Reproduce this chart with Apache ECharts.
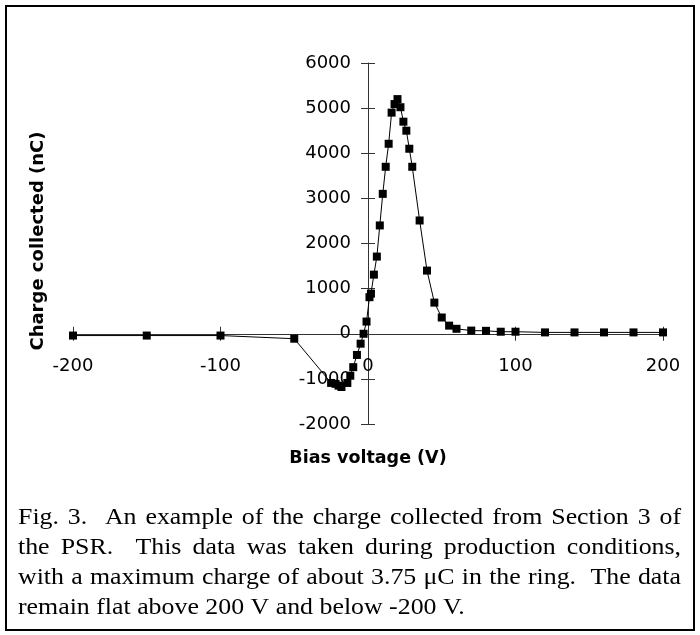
<!DOCTYPE html>
<html>
<head>
<meta charset="utf-8">
<script src="https://cdn.jsdelivr.net/npm/echarts@6/dist/echarts.min.js"></script>
<style>
html,body{margin:0;padding:0;background:#fff;}
#chart{width:700px;height:635px;}
</style>
</head>
<body>
<div id="chart"></div>
<script>
// Bias voltage (V)
const biasVoltage = [-200, -150, -100, -50, -25, -22, -20, -18, -14, -12, -10, -7.5, -5, -3, -1, 1, 2, 4, 6, 8, 10, 12, 14, 16, 18, 20, 22, 24, 26, 28, 30, 35, 40, 45, 50, 55, 60, 70, 80, 90, 100, 120, 140, 160, 180, 200];
// Charge collected (nC)
const chargeCollected = [-40, -40, -40, -110, -1090, -1110, -1150, -1180, -1090, -930, -740, -470, -220, 0, 270, 810, 890, 1310, 1710, 2400, 3100, 3700, 4210, 4900, 5090, 5200, 5020, 4700, 4500, 4100, 3700, 2510, 1400, 690, 360, 180, 110, 70, 65, 45, 45, 30, 30, 30, 30, 30];
const xTicks = {min: -200, max: 200, interval: 100};
const yTicks = {min: -2000, max: 6000, interval: 1000};
const xTitle = 'Bias voltage (V)';
const yTitle = 'Charge collected (nC)';
const captionLines = [
  "Fig. 3.  An example of the charge collected from Section 3 of",
  "the PSR.  This data was taken during production conditions,",
  "with a maximum charge of about 3.75 \u03bcC in the ring.  The data",
  "remain flat above 200 V and below -200 V."
];

const points = biasVoltage.map((v, i) => [v, chargeCollected[i]]);
const axisColor = '#333';
const tickFont = {fontFamily: '"DejaVu Sans", sans-serif', fontSize: 18, color: '#000'};

const grid = {left: 73, right: 37, top: 63, bottom: 211};
const W = 700, H = 635;
const gridW = W - grid.left - grid.right;
const gridH = H - grid.top - grid.bottom;
// shift axes so they cross at zero
const yAxisOffset = -gridW * (0 - xTicks.min) / (xTicks.max - xTicks.min);
const xAxisOffset = -gridH * (0 - yTicks.min) / (yTicks.max - yTicks.min);

// caption layout (justified lines)
const capFamily = '"Liberation Serif", "Times New Roman", serif';
const capSize = 23.5;
const capFont = capSize + 'px ' + capFamily;
const capScale = 1.1;
const capLeft = 18, capRight = 681, capTop = 518, capStep = 30;
const mctx = document.createElement('canvas').getContext('2d');
mctx.font = capFont;
const captionGraphics = [];
captionLines.forEach((line, li) => {
  const tokens = line.split(/( +)/).filter(s => s.length);
  const words = tokens.filter(t => !/^ +$/.test(t));
  const gaps = tokens.filter(t => /^ +$/.test(t)).map(t => t.length);
  const spaceW = mctx.measureText(' ').width * capScale;
  const widths = words.map(w => mctx.measureText(w).width * capScale);
  const wordsTotal = widths.reduce((a, b) => a + b, 0);
  const gapUnits = gaps.reduce((a, b) => a + b, 0);
  let unit = spaceW;
  if (li < captionLines.length - 1) unit = (capRight - capLeft - wordsTotal) / gapUnits;
  let x = capLeft;
  words.forEach((w, wi) => {
    captionGraphics.push({
      type: 'text', x: x, y: capTop + li * capStep, scaleX: capScale,
      style: {text: w, fontFamily: capFamily, fontSize: capSize, fill: '#000', textVerticalAlign: 'middle'}
    });
    x += widths[wi] + (wi < gaps.length ? gaps[wi] * unit : 0);
  });
});

const chart = echarts.init(document.getElementById('chart'), null, {renderer: 'canvas'});
chart.setOption({
  animation: false,
  backgroundColor: '#fff',
  grid: Object.assign({containLabel: false}, grid),
  xAxis: [{
    type: 'value', min: xTicks.min, max: xTicks.max, interval: xTicks.interval,
    position: 'bottom', offset: xAxisOffset,
    axisLine: {onZero: false, lineStyle: {color: axisColor, width: 1}},
    axisTick: {inside: false, length: 7, lineStyle: {color: axisColor}},
    axisLabel: Object.assign({margin: 24, formatter: v => String(v)}, tickFont),
    splitLine: {show: false}
  }, {
    type: 'value', min: xTicks.min, max: xTicks.max, interval: xTicks.interval,
    position: 'bottom', offset: xAxisOffset,
    axisLine: {show: false, onZero: false},
    axisTick: {inside: true, length: 7, lineStyle: {color: axisColor}},
    axisLabel: {show: false}, splitLine: {show: false}
  }],
  yAxis: [{
    type: 'value', min: yTicks.min, max: yTicks.max, interval: yTicks.interval,
    position: 'left', offset: yAxisOffset,
    axisLine: {onZero: false, lineStyle: {color: axisColor, width: 1}},
    axisTick: {inside: false, length: 7, lineStyle: {color: axisColor}},
    axisLabel: Object.assign({margin: 17, formatter: v => String(v)}, tickFont),
    splitLine: {show: false}
  }, {
    type: 'value', min: yTicks.min, max: yTicks.max, interval: yTicks.interval,
    position: 'left', offset: yAxisOffset,
    axisLine: {show: false, onZero: false},
    axisTick: {inside: true, length: 7, lineStyle: {color: axisColor}},
    axisLabel: {show: false}, splitLine: {show: false}
  }],
  series: [{
    type: 'line', xAxisIndex: 0, yAxisIndex: 0,
    data: points,
    symbol: 'rect', symbolSize: 8,
    itemStyle: {color: '#000'},
    lineStyle: {color: '#000', width: 1}
  }],
  graphic: [
    {type: 'rect', shape: {x: 6, y: 6, width: 688, height: 624}, style: {fill: 'none', stroke: '#000', lineWidth: 2}},
    {type: 'text', x: 368, y: 458, style: {text: xTitle, fontFamily: '"DejaVu Sans", sans-serif', fontWeight: 'bold', fontSize: 17.5, fill: '#000', textAlign: 'center', textVerticalAlign: 'middle'}},
    {type: 'text', x: 38, y: 241, rotation: Math.PI / 2, style: {text: yTitle, fontFamily: '"DejaVu Sans", sans-serif', fontWeight: 'bold', fontSize: 18, fill: '#000', textAlign: 'center', textVerticalAlign: 'middle'}}
  ].concat(captionGraphics)
});
</script>
</body>
</html>
